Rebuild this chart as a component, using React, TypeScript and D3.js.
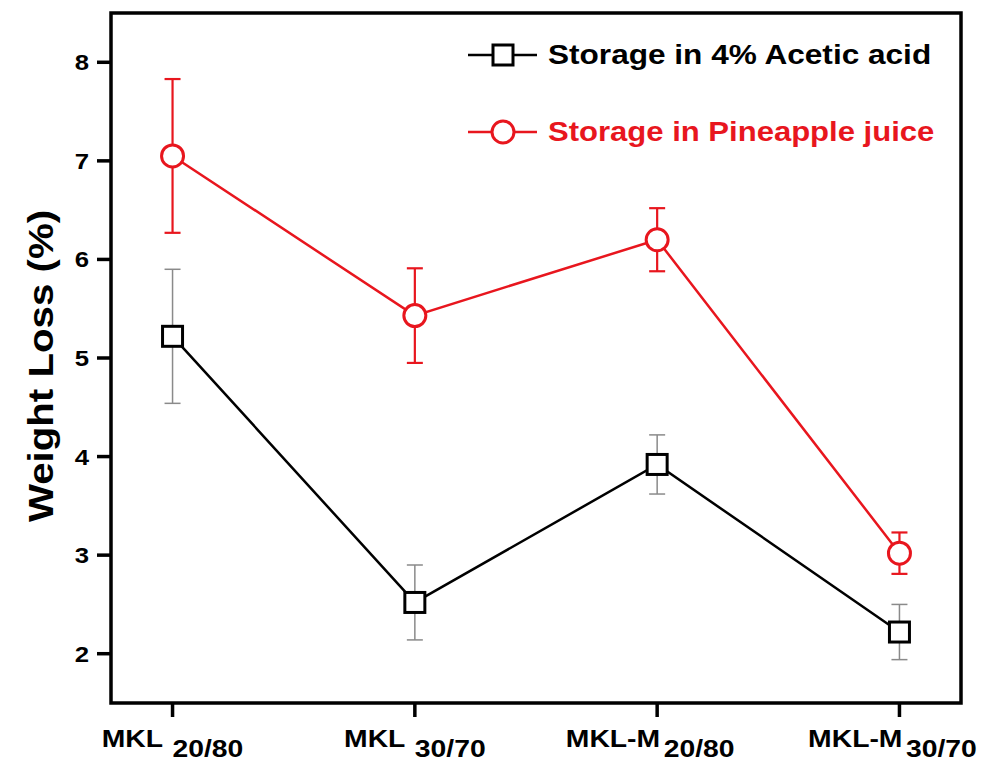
import React from "react";
import * as d3 from "d3";

const categories = ["MKL|20/80", "MKL|30/70", "MKL-M|20/80", "MKL-M|30/70"];
const aceticValues = [5.22, 2.52, 3.92, 2.22];
const aceticErrors = [0.68, 0.38, 0.3, 0.28];
const pineValues = [7.05, 5.43, 6.2, 3.02];
const pineErrors = [0.78, 0.48, 0.32, 0.21];
const yTicks = [2, 3, 4, 5, 6, 7, 8];
const legendLabels = ["Storage in 4% Acetic acid", "Storage in Pineapple juice"];

const W = 984;
const H = 761;
const left = 111;
const right = 961;
const top = 13;
const bottom = 703;
const RED = "#e8161e";
const FONT = "'Liberation Sans', Arial, sans-serif";
const SX = 1.17;

function SText(props: {
  x: number;
  y: number;
  size: number;
  anchor?: string;
  fill?: string;
  rotate?: number;
  sx?: number;
  children: React.ReactNode;
}) {
  const { x, y, size, anchor = "start", fill = "#000", rotate = 0, sx = SX, children } = props;
  return (
    <g transform={`translate(${x},${y}) rotate(${rotate}) scale(${sx},1)`}>
      <text x={0} y={0} textAnchor={anchor} fontFamily={FONT} fontWeight="bold" fontSize={size} fill={fill}>
        {children}
      </text>
    </g>
  );
}

export default function App() {
  const x = d3.scalePoint<string>().domain(categories).range([left, right]).padding(0.254);
  const y = d3.scaleLinear().domain([1.5, 8.5]).range([bottom, top]);
  const line = d3
    .line<number>()
    .x((_, i) => x(categories[i]) as number)
    .y((d) => y(d));

  return (
    <svg width={W} height={H} style={{ position: "absolute", left: 0, top: 0, background: "#fff" }}>
      <rect x={0} y={0} width={W} height={H} fill="#fff" />
      {/* frame */}
      <rect x={left} y={top} width={right - left} height={bottom - top} fill="none" stroke="#000" strokeWidth={3.5} />
      {/* y ticks */}
      {yTicks.map((t) => (
        <g key={t}>
          <line x1={left - 14} x2={left} y1={y(t)} y2={y(t)} stroke="#000" strokeWidth={3.5} />
          <SText x={left - 22} y={y(t) + 8} size={22} anchor="end">
            {t}
          </SText>
        </g>
      ))}
      {/* x ticks */}
      {categories.map((c) => {
        const [main, sub] = c.split("|");
        const cx = x(c) as number;
        const isM = main !== "MKL";
        return (
          <g key={c}>
            <line x1={cx} x2={cx} y1={bottom} y2={bottom + 14} stroke="#000" strokeWidth={3.5} />
            <SText x={cx - (isM ? 7 : 0)} y={747} size={24} anchor="middle" sx={1.18}>
              {main}
              <tspan dx={isM ? 3 : 8} dy={10}>{sub}</tspan>
            </SText>
          </g>
        );
      })}
      {/* y label */}
      <SText x={53} y={366} size={35} anchor="middle" rotate={-90} sx={1.15}>
        Weight Loss (%)
      </SText>
      {/* acetic series */}
      <path d={line(aceticValues) || ""} fill="none" stroke="#000" strokeWidth={2.5} />
      {aceticValues.map((v, i) => {
        const cx = x(categories[i]) as number;
        return (
          <g key={"a" + i} stroke="#8a8a8a" strokeWidth={1.5}>
            <line x1={cx} x2={cx} y1={y(v + aceticErrors[i])} y2={y(v - aceticErrors[i])} />
            <line x1={cx - 8} x2={cx + 8} y1={y(v + aceticErrors[i])} y2={y(v + aceticErrors[i])} />
            <line x1={cx - 8} x2={cx + 8} y1={y(v - aceticErrors[i])} y2={y(v - aceticErrors[i])} />
          </g>
        );
      })}
      {aceticValues.map((v, i) => {
        const cx = x(categories[i]) as number;
        return <rect key={"as" + i} x={cx - 10} y={y(v) - 10} width={20} height={20} fill="#fff" stroke="#000" strokeWidth={3} />;
      })}
      {/* pineapple series */}
      <path d={line(pineValues) || ""} fill="none" stroke={RED} strokeWidth={2.5} />
      {pineValues.map((v, i) => {
        const cx = x(categories[i]) as number;
        return (
          <g key={"p" + i} stroke={RED} strokeWidth={2.2}>
            <line x1={cx} x2={cx} y1={y(v + pineErrors[i])} y2={y(v - pineErrors[i])} />
            <line x1={cx - 8} x2={cx + 8} y1={y(v + pineErrors[i])} y2={y(v + pineErrors[i])} />
            <line x1={cx - 8} x2={cx + 8} y1={y(v - pineErrors[i])} y2={y(v - pineErrors[i])} />
          </g>
        );
      })}
      {pineValues.map((v, i) => {
        const cx = x(categories[i]) as number;
        return <circle key={"pc" + i} cx={cx} cy={y(v)} r={11} fill="#fff" stroke={RED} strokeWidth={3} />;
      })}
      {/* legend */}
      <g>
        <line x1={468} x2={537} y1={55} y2={55} stroke="#000" strokeWidth={2.5} />
        <rect x={493} y={45} width={20} height={20} fill="#fff" stroke="#000" strokeWidth={3} />
        <SText x={548} y={64} size={27} sx={1.17}>
          {legendLabels[0]}
        </SText>
        <line x1={468} x2={537} y1={132} y2={132} stroke={RED} strokeWidth={2.5} />
        <circle cx={503} cy={132} r={11} fill="#fff" stroke={RED} strokeWidth={3} />
        <SText x={548} y={141} size={27} fill={RED} sx={1.15}>
          {legendLabels[1]}
        </SText>
      </g>
    </svg>
  );
}
